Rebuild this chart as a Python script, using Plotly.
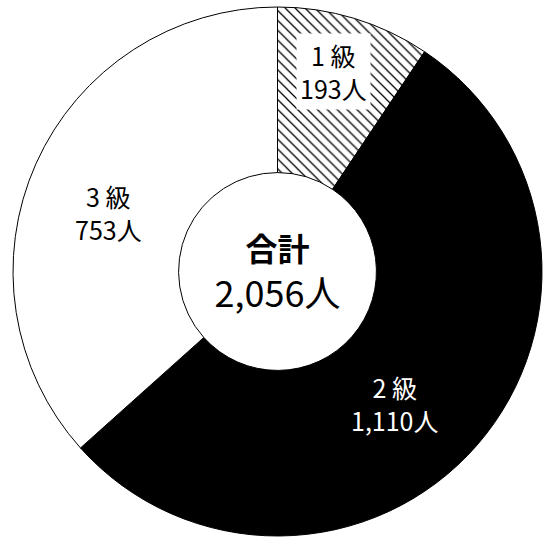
import plotly.graph_objects as go

# ---- data ----
grades = ["1 級", "2 級", "3 級"]
counts = [193, 1110, 753]
unit = "人"
center_title = "合計"

total = sum(counts)

# ---- styles / layout constants ----
slice_colors = ["white", "black", "white"]
pattern_shapes = ["\\", "", ""]
text_colors = ["black", "white", "black"]
label_bg = ["white", "rgba(0,0,0,0)", "rgba(0,0,0,0)"]
# label block centres (pixels from top-left)
label_pos_px = [(333, 71), (394, 403), (108, 212)]

FONT = "Noto Sans CJK JP, Noto Sans, sans-serif"
W, H = 544, 540

# pie placement (pixels)
cx, cy, R = 277.5, 271.5, 264.5
dom_x = [(cx - R) / W, (cx + R) / W]
dom_y = [1 - (cy + R) / H, 1 - (cy - R) / H]

labels_text = [f"{g}<br>{c:,}{unit}" for g, c in zip(grades, counts)]

fig = go.Figure(
    go.Pie(
        labels=grades,
        values=counts,
        textinfo="none",
        hoverinfo="skip",
        sort=False,
        direction="clockwise",
        rotation=0,
        hole=0.374,
        domain=dict(x=dom_x, y=dom_y),
        marker=dict(
            colors=slice_colors,
            line=dict(color="black", width=1),
            pattern=dict(shape=pattern_shapes, fgcolor="black", size=7, solidity=0.18),
        ),
        title=dict(
            text=f"<b><span style='font-size:32px'>{center_title}</span></b><br>{total:,}{unit}",
            position="middle center",
            font=dict(family=FONT, size=36, color="black"),
        ),
        showlegend=False,
    )
)

for txt, (px, py), col, bg in zip(labels_text, label_pos_px, text_colors, label_bg):
    fig.add_annotation(
        x=px / W,
        y=1 - py / H,
        xref="paper",
        yref="paper",
        text=txt,
        showarrow=False,
        font=dict(family=FONT, size=25, color=col),
        bgcolor=bg,
        borderpad=3,
        xanchor="center",
        yanchor="middle",
    )

fig.update_layout(
    width=W,
    height=H,
    margin=dict(l=0, r=0, t=0, b=0),
    paper_bgcolor="white",
    plot_bgcolor="white",
    font=dict(family=FONT),
)

fig.write_html(
    "out.html",
    config={"displayModeBar": False},
    post_script="document.body.style.margin='0';document.body.style.overflow='hidden';",
)
